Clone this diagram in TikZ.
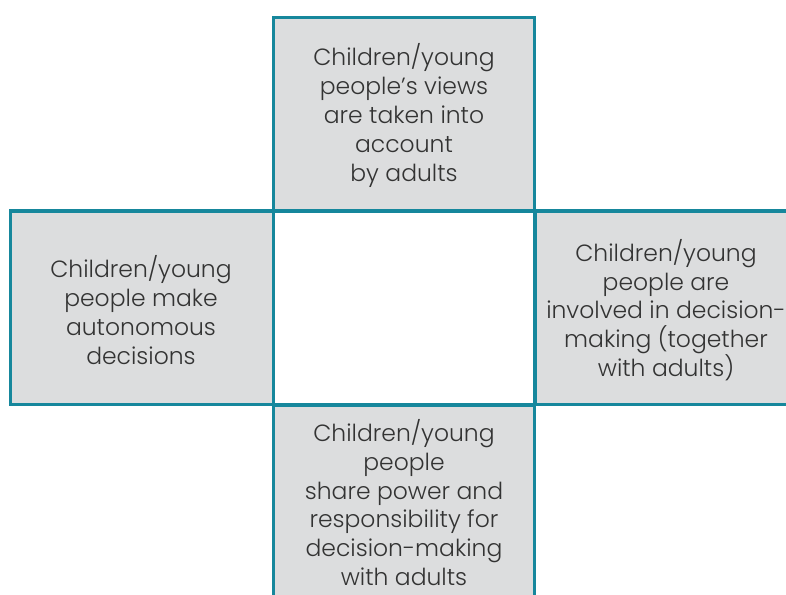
\documentclass[tikz,border=0pt]{standalone}
\usepackage{fontspec}
\setmainfont{Poppins Light}
\definecolor{frame}{HTML}{16879C}
\definecolor{boxfill}{HTML}{DCDDDE}
\definecolor{txt}{HTML}{333333}
\begin{document}
\begin{tikzpicture}[x=0.75pt,y=-0.75pt,
  panel/.style={draw=frame,fill=boxfill,line width=2.4pt},
  label/.style={align=center,text=txt,font=\fontsize{17.6}{21.6}\selectfont,inner sep=0pt}]
\useasboundingbox (0,0) rectangle (786,594);
\fill[white] (0,0) rectangle (786,594);
\draw[panel] (273.5,17.5) rectangle (534.5,211);
\draw[panel] (10.5,211) rectangle (273.5,404.5);
\draw[panel] (535,211) rectangle (800,404.5);
\draw[panel] (273.5,405) rectangle (534.5,610);
\node[label] (top) at (404,115.5) {Children/young\\people’s views\\are taken into\\account\\by adults};
\node[label] (left) at (141,310) {Children/young\\people make\\autonomous\\decisions};
\node[label] (right) at (666,310) {Children/young\\people are\\involved in decision-\\making (together\\with adults)};
\node[label] (bottom) at (404,502.5) {Children/young\\people\\share power and\\responsibility for\\decision-making\\with adults};
\end{tikzpicture}
\end{document}
